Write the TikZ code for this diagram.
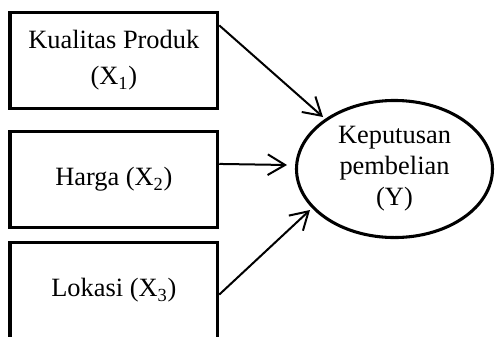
\documentclass[tikz,border=0pt]{standalone}
\usepackage{fontspec}
\setmainfont{Liberation Serif}
\usetikzlibrary{shapes.geometric,arrows.meta}
\begin{document}
\begin{tikzpicture}[x=0.75pt,y=-0.75pt,
  varbox/.style={draw,line width=2.3pt,rectangle,inner sep=0pt,
    minimum width=155.8pt,minimum height=71.8pt,align=center,
    font=\fontsize{19.8}{27.5}\selectfont},
  outcome/.style={draw,line width=2.3pt,ellipse,inner sep=0pt,
    minimum width=147pt,minimum height=102.8pt,align=center,
    font=\fontsize{19.8}{23.2}\selectfont},
  arr/.style={line width=1.5pt,-{Straight Barb[length=13pt,width=15.5pt]}}]
\useasboundingbox (0,0) rectangle (495,336);
\clip (0,0) rectangle (495,336);
\node[varbox] (b1) at (113.85,60.25) {Kualitas Produk\\(X\textsubscript{1})};
\node[varbox] (b2) at (113.85,179.6) {Harga (X\textsubscript{2})};
\node[varbox] (b3) at (113.85,290.5) {Lokasi (X\textsubscript{3})};
\node[outcome] (y) at (394.5,169) {Keputusan\\pembelian\\(Y)};
\coordinate (t1) at (323,117);
\coordinate (t2) at (287,165);
\coordinate (t3) at (310,210);
\draw[arr] ([yshift=-10.9pt]b1.north east) -- (t1);
\draw[arr] ([yshift=-25.3pt]b2.north east) -- (t2);
\draw[arr] ([yshift=-40.1pt]b3.north east) -- (t3);
\end{tikzpicture}
\end{document}
